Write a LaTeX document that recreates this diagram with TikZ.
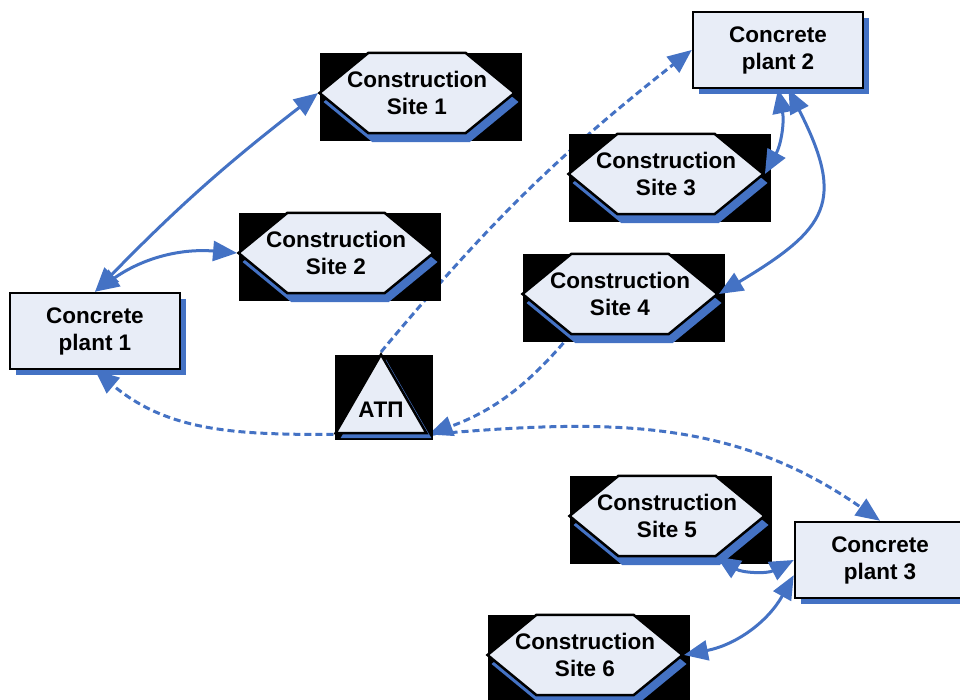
\documentclass[tikz,border=0pt]{standalone}
\usepackage{fontspec}
\setmainfont{Liberation Sans}
\usetikzlibrary{arrows.meta,shapes.geometric,shadows}
\pgfdeclarelayer{back}
\pgfsetlayers{back,main}
\definecolor{linkblue}{RGB}{68,114,196}
\definecolor{boxfill}{RGB}{232,237,247}

\begin{document}
\begin{tikzpicture}[x=1pt, y=1pt,
        plant/.style={rectangle, draw, line width=2.5pt, fill=boxfill, inner sep=0pt,
            minimum width=170pt, minimum height=76pt, align=center,
            font=\bfseries\fontsize{22.5}{27}\selectfont,
            drop shadow={shadow xshift=6pt, shadow yshift=-6pt, fill=linkblue, opacity=1}},
        site/.style={regular polygon, regular polygon sides=6, yscale=0.474, transform shape,
            draw, line width=2.5pt, fill=boxfill, inner sep=0pt, minimum size=195pt,
            drop shadow={shadow xshift=4pt, shadow yshift=-9pt, fill=linkblue, opacity=1}},
        sitetext/.style={align=center, inner sep=0pt, font=\bfseries\fontsize{22.5}{27}\selectfont},
        depot/.style={regular polygon, regular polygon sides=3, draw, line width=2.5pt, fill=boxfill,
            inner sep=0pt, minimum size=105pt,
            drop shadow={shadow xshift=5pt, shadow yshift=-5pt, fill=linkblue, opacity=1}},
        backdrop/.style={rectangle, fill=black, inner sep=0pt, minimum width=202pt, minimum height=88pt},
        link/.style={linkblue, line width=3pt, {Triangle[length=24pt,width=20pt]}-{Triangle[length=24pt,width=20pt]}},
        haul/.style={linkblue, line width=3pt, dash pattern=on 7pt off 4pt, -{Triangle[length=24pt,width=20pt]}}
    ]
        \useasboundingbox (0,0) rectangle (960,700);

        % Black boards behind the sites
        \node[backdrop] (bk1) at (420.5,603) {};
        \node[backdrop] (bk2) at (339.5,443) {};
        \node[backdrop] (bk3) at (669.5,522) {};
        \node[backdrop] (bk4) at (623.5,402) {};
        \node[backdrop] (bk5) at (670.5,180) {};
        \node[backdrop] (bk6) at (588.5,41) {};
        \node[backdrop, minimum width=98pt, minimum height=85pt] (bkatp) at (384,302.5) {};

        % Nodes
        \node[plant] (plant1) at (95,369) {Concrete\\plant 1};
        \node[plant] (plant2) at (778,650) {Concrete\\plant 2};
        \node[plant] (plant3) at (880,140) {Concrete\\plant 3};

        \node[site] (site1) at (417,607) {};
        \node[site] (site2) at (336,447) {};
        \node[site] (site3) at (666,526) {};
        \node[site] (site4) at (620,406) {};
        \node[site] (site5) at (667,184) {};
        \node[site] (site6) at (585,45) {};

        \node[sitetext] (lab1) at (site1.center) {Construction\\Site 1};
        \node[sitetext] (lab2) at (site2.center) {Construction\\Site 2};
        \node[sitetext] (lab3) at (site3.center) {Construction\\Site 3};
        \node[sitetext] (lab4) at (site4.center) {Construction\\Site 4};
        \node[sitetext] (lab5) at (site5.center) {Construction\\Site 5};
        \node[sitetext] (lab6) at (site6.center) {Construction\\Site 6};

        \node[depot] (atp) at (381,293) {};
        \node[sitetext, yshift=-3pt] (atplab) at (atp.center) {АТП};

        % Paths: plants to sites
        \draw[link] (plant1.north) to[bend left=4] (site1.west);
        \draw[link] (plant1.north) to[bend left=20] (site2.west);
        \draw[link] (plant2.south) to[bend left=20] (site3.east);
        \draw[link] (plant2.-75) to[out=-63, in=31, looseness=1.5] (site4.east);
        \draw[link] (plant3.west) to[bend left=30] (site5.corner 5);
        \draw[link] (plant3.190) to[bend left=25] (site6.east);

        % Paths: trucks from the depot
        \begin{pgfonlayer}{back}
            \draw[haul] (atp.corner 1) to[bend left=6] (plant2.west);
            \draw[haul] (atp.corner 2) to[out=180, in=-40] (plant1.south);
            \draw[haul] (site4.corner 4) to[bend left=15] (atp.corner 3);
            \draw[haul] (atp.corner 3) to[out=5, in=145] (plant3.north);
        \end{pgfonlayer}

    \end{tikzpicture}
\end{document}
